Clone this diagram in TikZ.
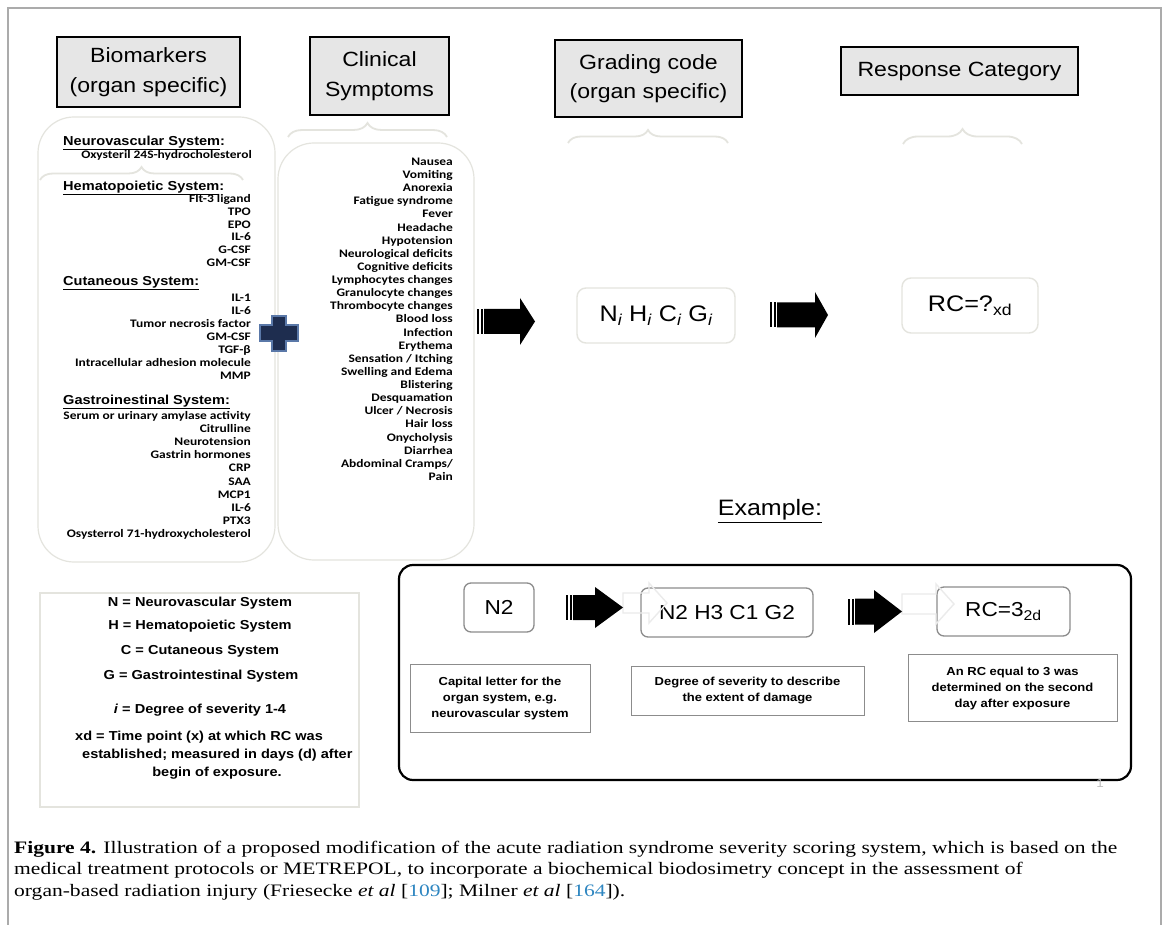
\documentclass[tikz,border=0pt]{standalone}
\usepackage{fontspec}
\setmainfont[FakeStretch=1.12]{Liberation Sans}
\newfontfamily\listfont[FakeStretch=1.17]{Carlito}
\newfontfamily\capfont[FakeStretch=1.23]{Liberation Serif}
\usepackage{xcolor}
\usepackage{tikz}
\usetikzlibrary{decorations.pathreplacing}

\definecolor{headgray}{HTML}{E6E6E6}
\definecolor{softline}{HTML}{E4E4DE}
\definecolor{ghostline}{HTML}{EBEBEB}
\definecolor{framegray}{HTML}{ABABAB}
\definecolor{boxline}{HTML}{8C8C8C}
\definecolor{plusnavy}{HTML}{1E2D4F}
\definecolor{plusedge}{HTML}{5A78A8}
\definecolor{citeblue}{HTML}{2E86C1}

% striped block arrow: tail x, centre y, length, head length, half body, half head
\newcommand{\stripearrow}[6]{%
	\fill ({#1},{#2-#5}) rectangle ({#1+2.2},{#2+#5});
	\fill ({#1+3.6},{#2-#5}) rectangle ({#1+5.8},{#2+#5});
	\fill ({#1+7.2},{#2-#5}) -- ({#1+#3-#4},{#2-#5}) -- ({#1+#3-#4},{#2-#6}) -- ({#1+#3},{#2})
		-- ({#1+#3-#4},{#2+#6}) -- ({#1+#3-#4},{#2+#5}) -- ({#1+7.2},{#2+#5}) -- cycle;
}
% faint outline arrow
\newcommand{\ghostarrow}[6]{%
	\draw [ghostline, line width=1.4pt] ({#1},{#2-#5}) -- ({#1+#3-#4},{#2-#5}) -- ({#1+#3-#4},{#2-#6}) -- ({#1+#3},{#2})
		-- ({#1+#3-#4},{#2+#6}) -- ({#1+#3-#4},{#2+#5}) -- ({#1},{#2+#5}) -- cycle;
}

\begin{document}
\begin{tikzpicture}[x=1pt, y=-1pt,
		head/.style={draw=black, line width=2.8pt, fill=headgray, inner sep=0pt, align=center, font=\fontsize{20.6}{29.5}\selectfont},
		listbox/.style={draw=softline, line width=1.2pt, rounded corners=36pt, fill=white},
		softbrace/.style={draw=softline, line width=1.8pt, decorate, decoration={brace, amplitude=#1}},
		heading/.style={anchor=west, inner sep=0pt, text height=9.5pt, text depth=3pt, font=\bfseries\fontsize{13}{14}\selectfont},
		item/.style={anchor=east, inner sep=0pt, text height=7.5pt, text depth=2.5pt, font=\listfont\fontsize{11.5}{12}\selectfont\bfseries},
		codebox/.style={draw=softline, line width=1.4pt, rounded corners=9pt, fill=white, font=\fontsize{22.5}{26}\selectfont},
		exbox/.style={draw=boxline, line width=1.3pt, rounded corners=7pt, fill=white, font=\fontsize{20.2}{24}\selectfont},
		notebox/.style={draw=boxline, line width=0.9pt, fill=white, align=center, inner sep=0pt, font=\bfseries\fontsize{11.6}{16}\selectfont},
		legend/.style={inner sep=0pt, font=\bfseries\fontsize{13}{16}\selectfont},
		capline/.style={anchor=base west, inner sep=0pt, font=\capfont\fontsize{17.5}{21}\selectfont}]
		
		\useasboundingbox (0,0) rectangle (1168,925);
		\fill [white] (0,0) rectangle (1168,925);
		\draw [framegray, line width=1.2pt] (8,925) -- (8,8) -- (1161,8) -- (1161,925);
		
		% column heads
		\node [head, minimum width=183pt, minimum height=70pt] (bio) at (148.5,72) {Biomarkers\\(organ specific)};
		\node [head, minimum width=139pt, minimum height=78pt] (clin) at (379.5,76) {Clinical\\Symptoms};
		\node [head, minimum width=187pt, minimum height=77pt] (grade) at (648.5,78.5) {Grading code\\(organ specific)};
		\node [head, minimum width=237pt, minimum height=48pt] (resp) at (959.5,71) {Response Category};
		
		\draw [softbrace=14pt] (288,137) -- (447,137);
		\draw [softbrace=13pt] (568,143) -- (728,143);
		\draw [softbrace=15pt] (903,144) -- (1022,144);
		
		% lists
		\node [listbox, minimum width=237pt, minimum height=445pt] (biobox) at (156.5,339.5) {};
		\node [listbox, minimum width=196pt, minimum height=417pt] (symbox) at (376,351.5) {};
		\draw [softbrace=13pt] (40,180) -- (243,180);
		
		\node [heading] (neuro) at (63,142) {\underline{Neurovascular System}:};
		\node [item] (neuro0) at (252,156) {Oxysteril 24S-hydrocholesterol};
		\node [heading] (hema) at (63,187) {\underline{Hematopoietic System}:};
		\foreach \t [count=\i from 0] in {Flt-3 ligand, TPO, EPO, IL-6, G-CSF, GM-CSF}
			\node [item] (hem\i) at (251, {200+12.8*\i}) {\t};
		\node [heading] (cuta) at (63,282) {\underline{Cutaneous System:}};
		\foreach \t [count=\i from 0] in {IL-1, IL-6, Tumor necrosis factor, GM-CSF, TGF-β, Intracellular adhesion molecule, MMP}
			\node [item] (cut\i) at (251, {299+13*\i}) {\t};
		\node [heading] (gast) at (63,401) {\underline{Gastroinestinal System:}};
		\foreach \t [count=\i from 0] in {Serum or urinary amylase activity, Citrulline, Neurotension, Gastrin hormones, CRP, SAA, MCP1, IL-6, PTX3, Osysterrol 71-hydroxycholesterol}
			\node [item] (gas\i) at (251, {417+13.1*\i}) {\t};
		
		\foreach \t [count=\i from 0] in {Nausea, Vomiting, Anorexia, Fatigue syndrome, Fever, Headache, Hypotension, Neurological deficits, Cognitive deficits, Lymphocytes changes, Granulocyte changes, Thrombocyte changes, Blood loss, Infection, Erythema, Sensation / Itching, Swelling and Edema, Blistering, Desquamation, Ulcer / Necrosis, Hair loss, Onycholysis, Diarrhea, Abdominal Cramps/, Pain}
			\node [item] (sym\i) at (453, {163+13.125*\i}) {\t};
		
		\coordinate (plus) at (279,333.5);
		\filldraw [fill=plusnavy, draw=plusedge, line width=1.2pt, shift={(plus)}]
			(-7,-17.5) -- (7,-17.5) -- (7,-8.5) -- (19,-8.5) -- (19,7.5) -- (7,7.5) -- (7,17.5)
			-- (-7,17.5) -- (-7,7.5) -- (-19,7.5) -- (-19,-8.5) -- (-7,-8.5) -- cycle;
		
		% grading code and response category
		\stripearrow{477}{321.5}{58}{15}{12.5}{23.5}
		\node [codebox, minimum width=158pt, minimum height=55pt] (code) at (656,315.5)
			{N\textsubscript{\itshape i} H\textsubscript{\itshape i} C\textsubscript{\itshape i} G\textsubscript{\itshape i}};
		\stripearrow{770}{315}{58}{13}{12.5}{23}
		\node [codebox, minimum width=136pt, minimum height=55pt] (rc) at (970,305.5) {RC=?\textsubscript{xd}};
		
		% example
		\node [font=\fontsize{22.3}{26}\selectfont] (exlabel) at (770,511) {\underline{Example:}};
		\node [draw=black, line width=2.2pt, rounded corners=14pt, minimum width=732pt, minimum height=215pt] (exframe) at (765,672.5) {};
		
		\node [exbox, minimum width=70pt, minimum height=49pt] (n2) at (499,607.5) {N2};
		\node [exbox, minimum width=172pt, minimum height=49pt] (n2h3) at (727,612.5) {N2 H3 C1 G2};
		\node [exbox, minimum width=133pt, minimum height=49pt] (rc3) at (1003.5,611.5) {RC=3\textsubscript{2d}};
		\ghostarrow{623}{603}{44}{18}{10}{20}
		\ghostarrow{902}{604}{52}{18}{10}{20}
		\stripearrow{566}{607.5}{57}{28}{12.5}{20.5}
		\stripearrow{848}{611.5}{54}{28}{13}{21.5}
		
		\node [notebox, minimum width=180pt, minimum height=68pt] (note1) at (500,698) {Capital letter for the\\organ system, e.g.\\neurovascular system};
		\node [notebox, minimum width=233pt, minimum height=49pt] (note2) at (747.5,691) {Degree of severity to describe\\the extent of damage};
		\node [notebox, minimum width=209pt, minimum height=67pt] (note3) at (1012.5,688) {An RC equal to 3 was\\determined on the second\\day after exposure};
		\node [text=black!25, font=\fontsize{12}{12}\selectfont] (pagenum) at (1100,783) {1};
		
		% key
		\node [draw=softline, line width=1.5pt, minimum width=319pt, minimum height=214pt] (keybox) at (199.5,700) {};
		\node [legend] (keyN) at (200,603) {N = Neurovascular System};
		\node [legend] (keyH) at (200,626) {H = Hematopoietic System};
		\node [legend] (keyC) at (200,651) {C = Cutaneous System};
		\node [legend] (keyG) at (201,676) {G = Gastrointestinal System};
		\node [legend] (keyi) at (200,710) {\textit{i} = Degree of severity 1-4};
		\node [legend, anchor=west] (keyx1) at (75,737) {xd = Time point (x) at which RC was};
		\node [legend, anchor=west] (keyx2) at (82,755) {established; measured in days (d) after};
		\node [legend] (keyx3) at (217,773) {begin of exposure.};
		
		% caption
		\node [capline] (cap1) at (14,853) {\textbf{Figure 4.} Illustration of a proposed modification of the acute radiation syndrome severity scoring system, which is based on the};
		\node [capline] (cap2) at (14,874.5) {medical treatment protocols or METREPOL, to incorporate a biochemical biodosimetry concept in the assessment of};
		\node [capline] (cap3) at (14,896) {organ-based radiation injury (Friesecke \textit{et al} [\textcolor{citeblue}{109}]; Milner \textit{et al} [\textcolor{citeblue}{164}]).};
	\end{tikzpicture}
\end{document}
